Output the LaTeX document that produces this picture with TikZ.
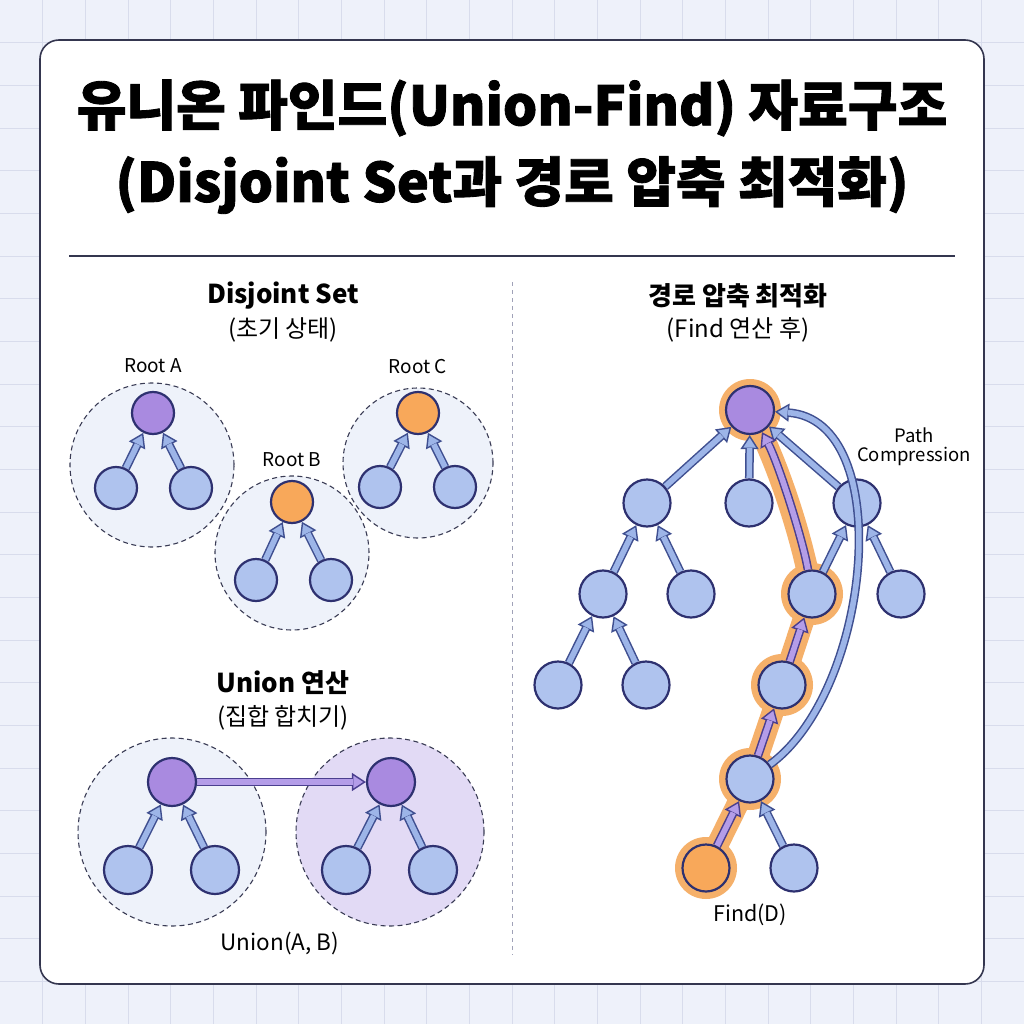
\documentclass[tikz,border=0pt]{standalone}
\usepackage{fontspec}
\setmainfont{Noto Sans CJK KR}
\newfontfamily\titlefont{Noto Sans CJK KR}[BoldFeatures={FakeBold=1.6}]
\usetikzlibrary{arrows.meta}
\definecolor{bgc}{HTML}{EEF1FA}
\definecolor{gridc}{HTML}{D8DCEC}
\definecolor{cardline}{HTML}{34364F}
\definecolor{setfill}{HTML}{EEF2FA}
\definecolor{setline}{HTML}{3A3C55}
\definecolor{lavfill}{HTML}{E2DAF5}
\definecolor{nodeblue}{HTML}{AFC3EE}
\definecolor{nodeline}{HTML}{2E3170}
\definecolor{nodepurple}{HTML}{A98AE0}
\definecolor{nodeorange}{HTML}{F8A85A}
\definecolor{arrblue}{HTML}{9DB5E8}
\definecolor{arrblueline}{HTML}{3F4F90}
\definecolor{arrpurple}{HTML}{B49DE8}
\definecolor{arrpurpleline}{HTML}{4B3F8F}
\definecolor{bandc}{HTML}{F5B06A}
\definecolor{divc}{HTML}{A0A2B8}
\pgfdeclarelayer{back}
\pgfdeclarelayer{edges}
\pgfsetlayers{back,edges,main}
\newcommand\linkpath[3]{%
  \draw[draw=#2, line width=0.6pt, -{Triangle[length=14pt,width=18pt,fill=#1,line width=1.4pt]}] #3;
  \draw[draw=#2, line width=8.6pt, shorten >=13pt] #3;
  \draw[draw=#1, line width=5.6pt, shorten >=13pt] #3;
}
\tikzset{
  bnode/.style={circle, draw=nodeline, line width=2.2pt, fill=nodeblue, minimum size=#1, inner sep=0pt},
  bnode/.default=42pt,
  pnode/.style={bnode=#1, fill=nodepurple},
  pnode/.default=42pt,
  onode/.style={bnode=#1, fill=nodeorange},
  onode/.default=42pt,
  setc/.style={circle, draw=setline, line width=1.1pt, dash pattern=on 5pt off 3.5pt, fill=setfill, minimum size=#1, inner sep=0pt},
  ttl/.style={font=\fontsize{54}{60}\titlefont\bfseries},
  hdr/.style={font=\fontsize{26}{30}\selectfont\bfseries},
  sub/.style={font=\fontsize{24}{28}\selectfont},
  lbl/.style={font=\fontsize{19}{22}\selectfont, align=center},
}
\begin{document}
\begin{tikzpicture}[x=1pt,y=-1pt]
\useasboundingbox (0,0) rectangle (1024,1024);
\begin{pgfonlayer}{back}
\fill[bgc] (0,0) rectangle (1024,1024);
\foreach \i in {1,...,23} {
  \draw[gridc, line width=0.8pt] ({\i*42.6667},0) -- ({\i*42.6667},1024);
  \draw[gridc, line width=0.8pt] (0,{\i*42.6667}) -- (1024,{\i*42.6667});
}
\draw[cardline, fill=white, line width=1.6pt, rounded corners=19pt] (40,40) rectangle (984,984);
\draw[cardline, line width=1.4pt] (69,256) -- (955,256);
\draw[divc, line width=1pt, dash pattern=on 4pt off 4pt] (512,282) -- (512,955);
\end{pgfonlayer}

% Titles
\node[ttl] (t1) at (512,108) {유니온 파인드(Union-Find) 자료구조};
\node[ttl] (t2) at (512,185) {(Disjoint Set과 경로 압축 최적화)};

% ---------- Left: Disjoint Set ----------
\node[hdr] (hds) at (283,296) {Disjoint Set};
\node[sub] (hds2) at (283,330) {(초기 상태)};
\begin{pgfonlayer}{back}
\node[setc=164pt] (setA) at (152,465) {};
\node[setc=154pt] (setB) at (292,553) {};
\node[setc=150pt] (setC) at (418,463) {};
\end{pgfonlayer}
\node[lbl] (lA) at (153,366) {Root A};
\node[lbl] (lB) at (292,460) {Root B};
\node[lbl] (lC) at (418,367) {Root C};
\node[pnode] (rA) at (153,413) {};
\node[bnode] (a1) at (116,488) {};
\node[bnode] (a2) at (191,488) {};
\node[onode] (rB) at (292,502) {};
\node[bnode] (b1) at (256,580) {};
\node[bnode] (b2) at (331,580) {};
\node[onode] (rC) at (418,413) {};
\node[bnode] (c1) at (380,487) {};
\node[bnode] (c2) at (455,487) {};
\begin{pgfonlayer}{edges}
\linkpath{arrblue}{arrblueline}{(a1) -- (rA)}
\linkpath{arrblue}{arrblueline}{(a2) -- (rA)}
\linkpath{arrblue}{arrblueline}{(b1) -- (rB)}
\linkpath{arrblue}{arrblueline}{(b2) -- (rB)}
\linkpath{arrblue}{arrblueline}{(c1) -- (rC)}
\linkpath{arrblue}{arrblueline}{(c2) -- (rC)}
\end{pgfonlayer}

% ---------- Left: Union ----------
\node[hdr] (hun) at (283,683) {Union 연산};
\node[sub] (hun2) at (283,718) {(집합 합치기)};
\begin{pgfonlayer}{back}
\node[setc=188pt] (uL) at (172,832) {};
\node[setc=188pt, fill=lavfill] (uR) at (390,832) {};
\end{pgfonlayer}
\node[pnode=48pt] (uLr) at (172,782) {};
\node[bnode=48pt] (uL1) at (128,870) {};
\node[bnode=48pt] (uL2) at (215,870) {};
\node[pnode=48pt] (uRr) at (391,782) {};
\node[bnode=48pt] (uR1) at (346,870) {};
\node[bnode=48pt] (uR2) at (433,870) {};
\node[font=\fontsize{22.5}{26}\selectfont] (uab) at (280,943) {Union(A, B)};
\begin{pgfonlayer}{edges}
\linkpath{arrblue}{arrblueline}{(uL1) -- (uLr)}
\linkpath{arrblue}{arrblueline}{(uL2) -- (uLr)}
\linkpath{arrblue}{arrblueline}{(uR1) -- (uRr)}
\linkpath{arrblue}{arrblueline}{(uR2) -- (uRr)}
\linkpath{arrpurple}{arrpurpleline}{(uLr) -- (uRr)}
\end{pgfonlayer}

% ---------- Right: Path compression ----------
\node[hdr] (hpc) at (738,296) {경로 압축 최적화};
\node[sub] (hpc2) at (738,330) {(Find 연산 후)};
\node[pnode=48pt] (root) at (750,410) {};
\node[bnode=47pt] (p1) at (647,503) {};
\node[bnode=47pt] (p2) at (749,503) {};
\node[bnode=47pt] (p3) at (857,503) {};
\node[bnode=47pt] (q1) at (603,594) {};
\node[bnode=47pt] (q2) at (691,594) {};
\node[bnode=47pt] (q3) at (812,594) {};
\node[bnode=47pt] (q4) at (901,594) {};
\node[bnode=47pt] (s1) at (558,685) {};
\node[bnode=47pt] (s2) at (646,685) {};
\node[bnode=47pt] (s3) at (782,685) {};
\node[bnode=47pt] (w1) at (750,779) {};
\node[onode=47pt] (dd) at (706,868) {};
\node[bnode=47pt] (w2) at (794,868) {};
\node[font=\fontsize{18.5}{21}\selectfont, align=center] (pcl) at (914,447) {Path\\[-2pt]Compression};
\node[font=\fontsize{21.5}{24}\selectfont] (fdl) at (750,915) {Find(D)};
\begin{pgfonlayer}{back}
\draw[bandc, line width=22pt, line join=round, line cap=round]
  (dd.center) -- (w1.center) -- (s3.center) -- (q3.center)
  .. controls (803,540) and (778,462) .. (root.center);
\foreach \n in {root,q3,s3,w1,dd} \fill[bandc] (\n) circle[radius=31pt];
\end{pgfonlayer}
\begin{pgfonlayer}{edges}
\linkpath{arrblue}{arrblueline}{(p1) -- (root)}
\linkpath{arrblue}{arrblueline}{(p2) -- (root)}
\linkpath{arrblue}{arrblueline}{(p3) -- (root)}
\linkpath{arrblue}{arrblueline}{(q1) -- (p1)}
\linkpath{arrblue}{arrblueline}{(q2) -- (p1)}
\linkpath{arrblue}{arrblueline}{(q3) -- (p3)}
\linkpath{arrblue}{arrblueline}{(q4) -- (p3)}
\linkpath{arrblue}{arrblueline}{(s1) -- (q1)}
\linkpath{arrblue}{arrblueline}{(s2) -- (q1)}
\linkpath{arrpurple}{arrpurpleline}{(s3) -- (q3)}
\linkpath{arrpurple}{arrpurpleline}{(w1) -- (s3)}
\linkpath{arrpurple}{arrpurpleline}{(dd) -- (w1)}
\linkpath{arrblue}{arrblueline}{(w2) -- (w1)}
\linkpath{arrpurple}{arrpurpleline}{(q3) .. controls (803,540) and (778,462) .. (root)}
\end{pgfonlayer}
\linkpath{arrblue}{arrblueline}{(w1) .. controls (872,690) and (897,420) .. (root)}
\end{tikzpicture}
\end{document}
